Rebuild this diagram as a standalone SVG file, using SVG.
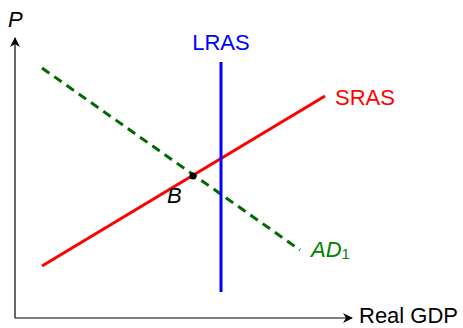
<svg xmlns="http://www.w3.org/2000/svg" width="463" height="328" viewBox="0 0 463 328">
<style>
text{font-family:"Liberation Sans","DejaVu Sans",sans-serif;font-size:22px}
.ax{stroke:#000;stroke-width:1.2;fill:none}
</style>
<defs>
<marker id="arr" viewBox="0 0 10 10" refX="9" refY="5" markerWidth="10" markerHeight="10" markerUnits="userSpaceOnUse" orient="auto">
<path d="M0,0 L10,5 L0,10 L3,5 Z" fill="#000"/>
</marker>
</defs>
<g id="axes">
<line class="ax" x1="15" y1="318" x2="15" y2="38" marker-end="url(#arr)"/>
<line class="ax" x1="15" y1="318" x2="352" y2="318" marker-end="url(#arr)"/>
<text x="8" y="27" font-style="italic">P</text>
<text x="359" y="323" font-size="21">Real GDP</text>
</g>
<g id="connectors">
<line id="ad" x1="42" y1="68" x2="300" y2="250" stroke="#006a00" stroke-width="3" stroke-dasharray="9,6"/>
<line id="sras" x1="42" y1="266" x2="325" y2="96" stroke="#ff0000" stroke-width="3"/>
<line id="lras" x1="221" y1="62" x2="221" y2="292" stroke="#0000ff" stroke-width="3"/>
</g>
<g id="labels">
<text x="221" y="50" text-anchor="middle" fill="#0000ff">LRAS</text>
<text x="335" y="105" fill="#ff0000">SRAS</text>
<text x="311" y="257" fill="#008000"><tspan font-style="italic">AD</tspan><tspan font-size="15" dy="2">1</tspan></text>
</g>
<g id="pointB">
<circle cx="193" cy="176" r="3.5" fill="#000"/>
<text x="167" y="203" font-style="italic">B</text>
</g>
</svg>
